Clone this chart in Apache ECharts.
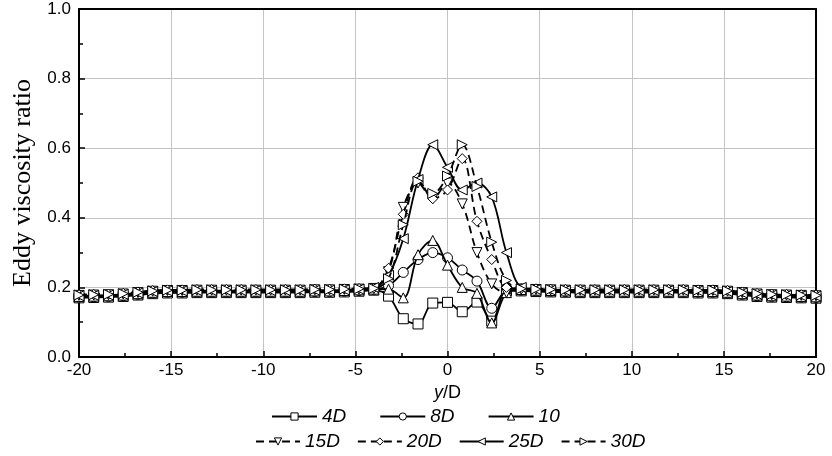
<!DOCTYPE html>
<html>
<head>
<meta charset="utf-8">
<script src="https://cdn.jsdelivr.net/npm/echarts@6/dist/echarts.min.js"></script>
<style>
  html, body { margin: 0; padding: 0; background: #fff; }
  #main { width: 832px; height: 456px; }
</style>
</head>
<body>
<div id="main"></div>
<script>
// y/D positions of the samples
var yD = [-20, -19.2, -18.4, -17.6, -16.8, -16, -15.2, -14.4, -13.6, -12.8, -12, -11.2, -10.4, -9.6, -8.8, -8, -7.2, -6.4, -5.6, -4.8,
  -4, -3.2, -2.4, -1.6, -0.8, 0, 0.8, 1.6, 2.4, 3.2, 4,
  4.8, 5.6, 6.4, 7.2, 8, 8.8, 9.6, 10.4, 11.2, 12, 12.8, 13.6, 14.4, 15.2, 16, 16.8, 17.6, 18.4, 19.2, 20];

var names = ["4D", "8D", "10", "15D", "20D", "25D", "30D"];

var v4D = [0.170, 0.171, 0.172, 0.174, 0.178, 0.182, 0.184, 0.184, 0.185, 0.185, 0.185, 0.185, 0.185, 0.185, 0.185, 0.185, 0.186, 0.186, 0.187, 0.189,
  0.192, 0.175, 0.110, 0.095, 0.155, 0.157, 0.130, 0.158, 0.103, 0.190, 0.190,
  0.188, 0.187, 0.186, 0.185, 0.185, 0.185, 0.185, 0.185, 0.185, 0.185, 0.185, 0.184, 0.184, 0.182, 0.178, 0.174, 0.172, 0.171, 0.170, 0.169];
var v8D = [0.172, 0.173, 0.174, 0.176, 0.180, 0.184, 0.186, 0.186, 0.187, 0.187, 0.187, 0.187, 0.187, 0.187, 0.187, 0.187, 0.188, 0.188, 0.189, 0.191,
  0.194, 0.205, 0.243, 0.280, 0.300, 0.285, 0.250, 0.218, 0.140, 0.190, 0.192,
  0.190, 0.189, 0.188, 0.187, 0.187, 0.187, 0.187, 0.187, 0.187, 0.187, 0.187, 0.186, 0.186, 0.184, 0.180, 0.176, 0.174, 0.173, 0.172, 0.171];
var v10 = [0.174, 0.175, 0.176, 0.178, 0.182, 0.186, 0.188, 0.188, 0.189, 0.189, 0.189, 0.189, 0.189, 0.189, 0.189, 0.189, 0.190, 0.190, 0.191, 0.193,
  0.195, 0.195, 0.170, 0.294, 0.335, 0.264, 0.200, 0.183, 0.098, 0.185, 0.194,
  0.192, 0.191, 0.190, 0.189, 0.189, 0.189, 0.189, 0.189, 0.189, 0.189, 0.189, 0.188, 0.188, 0.186, 0.182, 0.178, 0.176, 0.175, 0.174, 0.173];
var v15D = [0.177, 0.178, 0.179, 0.181, 0.185, 0.189, 0.191, 0.191, 0.192, 0.192, 0.192, 0.192, 0.192, 0.192, 0.192, 0.192, 0.193, 0.193, 0.194, 0.195,
  0.197, 0.245, 0.430, 0.500, 0.455, 0.500, 0.440, 0.300, 0.210, 0.185, 0.195,
  0.194, 0.193, 0.192, 0.192, 0.192, 0.192, 0.192, 0.192, 0.192, 0.192, 0.192, 0.191, 0.191, 0.189, 0.185, 0.181, 0.179, 0.178, 0.177, 0.176];
var v20D = [0.179, 0.180, 0.181, 0.183, 0.187, 0.191, 0.193, 0.193, 0.194, 0.194, 0.194, 0.194, 0.194, 0.194, 0.194, 0.194, 0.195, 0.195, 0.196, 0.197,
  0.198, 0.255, 0.410, 0.515, 0.455, 0.480, 0.570, 0.390, 0.280, 0.200, 0.197,
  0.196, 0.195, 0.194, 0.194, 0.194, 0.194, 0.194, 0.194, 0.194, 0.194, 0.194, 0.193, 0.193, 0.191, 0.187, 0.183, 0.181, 0.180, 0.179, 0.178];
var v25D = [0.176, 0.177, 0.178, 0.180, 0.184, 0.188, 0.190, 0.190, 0.191, 0.191, 0.191, 0.191, 0.191, 0.191, 0.191, 0.191, 0.192, 0.192, 0.193, 0.195,
  0.200, 0.235, 0.340, 0.510, 0.610, 0.545, 0.480, 0.500, 0.460, 0.300, 0.200,
  0.194, 0.192, 0.191, 0.191, 0.191, 0.191, 0.191, 0.191, 0.191, 0.191, 0.191, 0.190, 0.190, 0.188, 0.184, 0.180, 0.178, 0.177, 0.176, 0.175];
var v30D = [0.178, 0.179, 0.180, 0.182, 0.186, 0.190, 0.192, 0.192, 0.193, 0.193, 0.193, 0.193, 0.193, 0.193, 0.193, 0.193, 0.194, 0.194, 0.195, 0.196,
  0.197, 0.225, 0.380, 0.505, 0.470, 0.520, 0.610, 0.490, 0.330, 0.220, 0.196,
  0.195, 0.194, 0.193, 0.193, 0.193, 0.193, 0.193, 0.193, 0.193, 0.193, 0.193, 0.192, 0.192, 0.190, 0.186, 0.182, 0.180, 0.179, 0.178, 0.177];

var values = [v4D, v8D, v10, v15D, v20D, v25D, v30D];
var symbols = ["rect", "circle", "triangle", "triangle", "diamond", "triangle", "triangle"];
var rotates = [0, 0, 0, 180, 0, 90, -90];
var dashed = [false, false, false, true, true, false, true];

var myChart = echarts.init(document.getElementById("main"));

var series = names.map(function (n, i) {
  return {
    name: n,
    type: "line",
    data: yD.map(function (x, k) { return [x, values[i][k]]; }),
    smooth: 0.35,
    symbol: symbols[i],
    symbolRotate: rotates[i],
    symbolSize: 10,
    showAllSymbol: true,
    lineStyle: { color: "#000", width: 1.8, type: dashed[i] ? [8, 5] : "solid" },
    itemStyle: { color: "#fff", borderColor: "#000", borderWidth: 1 },
    emphasis: { disabled: true },
    z: 2 + i
  };
});

var legendText = { fontSize: 19, fontStyle: "italic", fontFamily: "Liberation Sans", color: "#000" };
var legendSymbol = { color: "#fff", borderColor: "#000", borderWidth: 1 };

var option = {
  animation: false,
  backgroundColor: "#fff",
  grid: { left: 79, right: 16, top: 9, bottom: 99 },
  legend: [
    {
      data: names.slice(0, 3),
      left: 266, top: 402,
      itemWidth: 45, itemHeight: 9, itemGap: 33,
      itemStyle: legendSymbol,
      textStyle: legendText
    },
    {
      data: names.slice(3),
      left: 250, top: 427,
      itemWidth: 44, itemHeight: 9, itemGap: 17,
      itemStyle: legendSymbol,
      textStyle: legendText
    }
  ],
  xAxis: [
    {
      type: "value", min: -20, max: 20, interval: 5,
      name: "{i|y}/D",
      nameLocation: "middle", nameGap: 16,
      nameTextStyle: {
        fontSize: 18, fontFamily: "Liberation Sans", color: "#000",
        rich: { i: { fontSize: 18, fontStyle: "italic", fontFamily: "Liberation Sans", color: "#000" } }
      },
      axisLine: { onZero: false, lineStyle: { color: "#000", width: 2 } },
      axisTick: { inside: true, length: 6, lineStyle: { color: "#000", width: 1.5 } },
      minorTick: { show: true, splitNumber: 2, length: 4, lineStyle: { color: "#000", width: 1.5 } },
      axisLabel: { fontSize: 17, fontFamily: "Liberation Sans", color: "#000", margin: 5 },
      splitLine: { show: true, lineStyle: { color: "#c4c4c4", width: 1 } }
    },
    {
      type: "value", min: -20, max: 20, position: "top",
      axisLine: { show: true, onZero: false, lineStyle: { color: "#000", width: 2 } },
      axisTick: { show: false }, axisLabel: { show: false }, splitLine: { show: false }
    }
  ],
  yAxis: [
    {
      type: "value", min: 0, max: 1, interval: 0.2,
      name: "Eddy viscosity ratio",
      nameLocation: "middle", nameGap: 41,
      nameTextStyle: { fontSize: 26, fontFamily: "Liberation Serif", color: "#000" },
      axisLine: { show: true, onZero: false, lineStyle: { color: "#000", width: 2 } },
      axisTick: { inside: true, length: 6, lineStyle: { color: "#000", width: 1.5 } },
      minorTick: { show: true, splitNumber: 2, length: 4, lineStyle: { color: "#000", width: 1.5 } },
      axisLabel: {
        fontSize: 17, fontFamily: "Liberation Sans", color: "#000", margin: 8,
        formatter: function (v) { return v.toFixed(1); }
      },
      splitLine: { show: true, lineStyle: { color: "#c4c4c4", width: 1 } }
    },
    {
      type: "value", min: 0, max: 1, position: "right",
      axisLine: { show: true, onZero: false, lineStyle: { color: "#000", width: 2 } },
      axisTick: { show: false }, axisLabel: { show: false }, splitLine: { show: false }
    }
  ],
  series: series
};

myChart.setOption(option);
</script>
</body>
</html>
